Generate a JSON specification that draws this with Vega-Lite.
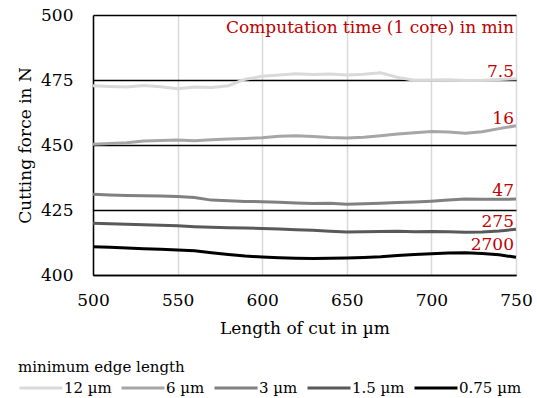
{
  "$schema": "https://vega.github.io/schema/vega-lite/v6.json",
  "width": 423,
  "height": 260,
  "autosize": "none",
  "padding": {"left": 93, "top": 15, "right": 21, "bottom": 123},
  "background": "white",
  "config": {
    "view": {"stroke": null},
    "font": "DejaVu Serif",
    "axis": {"labelFont": "DejaVu Serif", "titleFont": "DejaVu Serif", "labelFontSize": 17, "titleFontSize": 17, "titleFontWeight": "normal", "labelColor": "#000", "titleColor": "#000", "ticks": false, "labelFlush": false}
  },
  "datasets": {
    "series": [
      {"x": 500, "F": 472.8, "s": "12 µm"}, {"x": 510, "F": 472.5, "s": "12 µm"}, {"x": 520, "F": 472.3, "s": "12 µm"}, {"x": 530, "F": 472.9, "s": "12 µm"}, {"x": 540, "F": 472.4, "s": "12 µm"}, {"x": 550, "F": 471.6, "s": "12 µm"}, {"x": 560, "F": 472.3, "s": "12 µm"}, {"x": 570, "F": 472.1, "s": "12 µm"}, {"x": 580, "F": 472.8, "s": "12 µm"}, {"x": 590, "F": 475.3, "s": "12 µm"}, {"x": 600, "F": 476.4, "s": "12 µm"}, {"x": 610, "F": 476.9, "s": "12 µm"}, {"x": 620, "F": 477.4, "s": "12 µm"}, {"x": 630, "F": 477.1, "s": "12 µm"}, {"x": 640, "F": 477.3, "s": "12 µm"}, {"x": 650, "F": 476.9, "s": "12 µm"}, {"x": 660, "F": 477.2, "s": "12 µm"}, {"x": 670, "F": 477.8, "s": "12 µm"}, {"x": 680, "F": 476.0, "s": "12 µm"}, {"x": 690, "F": 474.9, "s": "12 µm"}, {"x": 700, "F": 475.0, "s": "12 µm"}, {"x": 710, "F": 475.1, "s": "12 µm"}, {"x": 720, "F": 474.8, "s": "12 µm"}, {"x": 730, "F": 474.9, "s": "12 µm"}, {"x": 740, "F": 475.2, "s": "12 µm"}, {"x": 750, "F": 475.5, "s": "12 µm"},
      {"x": 500, "F": 450.3, "s": "6 µm"}, {"x": 510, "F": 450.6, "s": "6 µm"}, {"x": 520, "F": 450.9, "s": "6 µm"}, {"x": 530, "F": 451.5, "s": "6 µm"}, {"x": 540, "F": 451.7, "s": "6 µm"}, {"x": 550, "F": 451.9, "s": "6 µm"}, {"x": 560, "F": 451.6, "s": "6 µm"}, {"x": 570, "F": 452.0, "s": "6 µm"}, {"x": 580, "F": 452.3, "s": "6 µm"}, {"x": 590, "F": 452.5, "s": "6 µm"}, {"x": 600, "F": 452.8, "s": "6 µm"}, {"x": 610, "F": 453.4, "s": "6 µm"}, {"x": 620, "F": 453.6, "s": "6 µm"}, {"x": 630, "F": 453.3, "s": "6 µm"}, {"x": 640, "F": 452.9, "s": "6 µm"}, {"x": 650, "F": 452.7, "s": "6 µm"}, {"x": 660, "F": 453.0, "s": "6 µm"}, {"x": 670, "F": 453.6, "s": "6 µm"}, {"x": 680, "F": 454.2, "s": "6 µm"}, {"x": 690, "F": 454.7, "s": "6 µm"}, {"x": 700, "F": 455.2, "s": "6 µm"}, {"x": 710, "F": 455.0, "s": "6 µm"}, {"x": 720, "F": 454.5, "s": "6 µm"}, {"x": 730, "F": 455.1, "s": "6 µm"}, {"x": 740, "F": 456.3, "s": "6 µm"}, {"x": 750, "F": 457.4, "s": "6 µm"},
      {"x": 500, "F": 431.1, "s": "3 µm"}, {"x": 510, "F": 430.8, "s": "3 µm"}, {"x": 520, "F": 430.6, "s": "3 µm"}, {"x": 530, "F": 430.5, "s": "3 µm"}, {"x": 540, "F": 430.4, "s": "3 µm"}, {"x": 550, "F": 430.2, "s": "3 µm"}, {"x": 560, "F": 429.8, "s": "3 µm"}, {"x": 570, "F": 428.8, "s": "3 µm"}, {"x": 580, "F": 428.6, "s": "3 µm"}, {"x": 590, "F": 428.3, "s": "3 µm"}, {"x": 600, "F": 428.2, "s": "3 µm"}, {"x": 610, "F": 428.0, "s": "3 µm"}, {"x": 620, "F": 427.7, "s": "3 µm"}, {"x": 630, "F": 427.5, "s": "3 µm"}, {"x": 640, "F": 427.6, "s": "3 µm"}, {"x": 650, "F": 427.2, "s": "3 µm"}, {"x": 660, "F": 427.4, "s": "3 µm"}, {"x": 670, "F": 427.6, "s": "3 µm"}, {"x": 680, "F": 427.9, "s": "3 µm"}, {"x": 690, "F": 428.1, "s": "3 µm"}, {"x": 700, "F": 428.4, "s": "3 µm"}, {"x": 710, "F": 428.8, "s": "3 µm"}, {"x": 720, "F": 429.2, "s": "3 µm"}, {"x": 730, "F": 429.1, "s": "3 µm"}, {"x": 740, "F": 429.1, "s": "3 µm"}, {"x": 750, "F": 429.2, "s": "3 µm"},
      {"x": 500, "F": 419.9, "s": "1.5 µm"}, {"x": 510, "F": 419.7, "s": "1.5 µm"}, {"x": 520, "F": 419.5, "s": "1.5 µm"}, {"x": 530, "F": 419.3, "s": "1.5 µm"}, {"x": 540, "F": 419.1, "s": "1.5 µm"}, {"x": 550, "F": 418.9, "s": "1.5 µm"}, {"x": 560, "F": 418.6, "s": "1.5 µm"}, {"x": 570, "F": 418.4, "s": "1.5 µm"}, {"x": 580, "F": 418.2, "s": "1.5 µm"}, {"x": 590, "F": 418.1, "s": "1.5 µm"}, {"x": 600, "F": 417.9, "s": "1.5 µm"}, {"x": 610, "F": 417.7, "s": "1.5 µm"}, {"x": 620, "F": 417.4, "s": "1.5 µm"}, {"x": 630, "F": 417.2, "s": "1.5 µm"}, {"x": 640, "F": 416.8, "s": "1.5 µm"}, {"x": 650, "F": 416.5, "s": "1.5 µm"}, {"x": 660, "F": 416.6, "s": "1.5 µm"}, {"x": 670, "F": 416.7, "s": "1.5 µm"}, {"x": 680, "F": 416.8, "s": "1.5 µm"}, {"x": 690, "F": 416.6, "s": "1.5 µm"}, {"x": 700, "F": 416.7, "s": "1.5 µm"}, {"x": 710, "F": 416.6, "s": "1.5 µm"}, {"x": 720, "F": 416.4, "s": "1.5 µm"}, {"x": 730, "F": 416.5, "s": "1.5 µm"}, {"x": 740, "F": 416.9, "s": "1.5 µm"}, {"x": 750, "F": 417.6, "s": "1.5 µm"},
      {"x": 500, "F": 410.9, "s": "0.75 µm"}, {"x": 510, "F": 410.7, "s": "0.75 µm"}, {"x": 520, "F": 410.4, "s": "0.75 µm"}, {"x": 530, "F": 410.1, "s": "0.75 µm"}, {"x": 540, "F": 409.9, "s": "0.75 µm"}, {"x": 550, "F": 409.6, "s": "0.75 µm"}, {"x": 560, "F": 409.3, "s": "0.75 µm"}, {"x": 570, "F": 408.6, "s": "0.75 µm"}, {"x": 580, "F": 407.9, "s": "0.75 µm"}, {"x": 590, "F": 407.3, "s": "0.75 µm"}, {"x": 600, "F": 406.9, "s": "0.75 µm"}, {"x": 610, "F": 406.6, "s": "0.75 µm"}, {"x": 620, "F": 406.4, "s": "0.75 µm"}, {"x": 630, "F": 406.3, "s": "0.75 µm"}, {"x": 640, "F": 406.4, "s": "0.75 µm"}, {"x": 650, "F": 406.5, "s": "0.75 µm"}, {"x": 660, "F": 406.7, "s": "0.75 µm"}, {"x": 670, "F": 407.0, "s": "0.75 µm"}, {"x": 680, "F": 407.5, "s": "0.75 µm"}, {"x": 690, "F": 407.9, "s": "0.75 µm"}, {"x": 700, "F": 408.2, "s": "0.75 µm"}, {"x": 710, "F": 408.5, "s": "0.75 µm"}, {"x": 720, "F": 408.6, "s": "0.75 µm"}, {"x": 730, "F": 408.3, "s": "0.75 µm"}, {"x": 740, "F": 407.8, "s": "0.75 µm"}, {"x": 750, "F": 406.8, "s": "0.75 µm"}
    ],
    "labels": [
      {"x": 750, "F": 493.1, "t": "Computation time (1 core) in min"},
      {"x": 750, "F": 476.2, "t": "7.5"},
      {"x": 750, "F": 458.2, "t": "16"},
      {"x": 750, "F": 430.4, "t": "47"},
      {"x": 750, "F": 418.6, "t": "275"},
      {"x": 750, "F": 409.6, "t": "2700"}
    ]
  },
  "layer": [
    {
      "data": {"name": "series"},
      "mark": {"type": "line", "strokeWidth": 3, "interpolate": "linear"},
      "encoding": {
        "x": {"field": "x", "type": "quantitative", "scale": {"domain": [500, 750], "nice": false}, "axis": {"title": "Length of cut in µm", "values": [500, 550, 600, 650, 700, 750], "grid": true, "gridColor": "#d9d9d9", "gridWidth": 1.5, "domainColor": "#000", "domainWidth": 1.5, "labelPadding": 17, "titlePadding": 12}},
        "y": {"field": "F", "type": "quantitative", "scale": {"domain": [400, 500], "nice": false, "zero": false}, "axis": {"title": "Cutting force in N", "values": [400, 425, 450, 475, 500], "grid": true, "gridColor": "#000", "gridWidth": 1.3, "domainColor": "#000", "domainWidth": 1.5, "labelPadding": 20, "titlePadding": 6}},
        "color": {"field": "s", "type": "nominal", "scale": {"domain": ["12 µm", "6 µm", "3 µm", "1.5 µm", "0.75 µm"], "range": ["#d9d9d9", "#a6a6a6", "#808080", "#595959", "#000000"]},
          "legend": {"orient": "none", "legendX": -75, "legendY": 345, "direction": "horizontal", "title": "minimum edge length", "titleFont": "DejaVu Serif", "titleFontSize": 15, "titleFontWeight": "normal", "titleColor": "#000", "titlePadding": -10, "labelFont": "DejaVu Serif", "labelFontSize": 15, "labelColor": "#000", "symbolType": "stroke", "symbolSize": 1849, "symbolStrokeWidth": 3, "labelOffset": 0, "columnPadding": 3}}
      }
    },
    {
      "data": {"name": "labels"},
      "mark": {"type": "text", "align": "right", "baseline": "alphabetic", "dx": -2, "color": "#c00000", "font": "DejaVu Serif", "fontSize": 17},
      "encoding": {
        "x": {"field": "x", "type": "quantitative"},
        "y": {"field": "F", "type": "quantitative"},
        "text": {"field": "t", "type": "nominal"}
      }
    }
  ]
}
